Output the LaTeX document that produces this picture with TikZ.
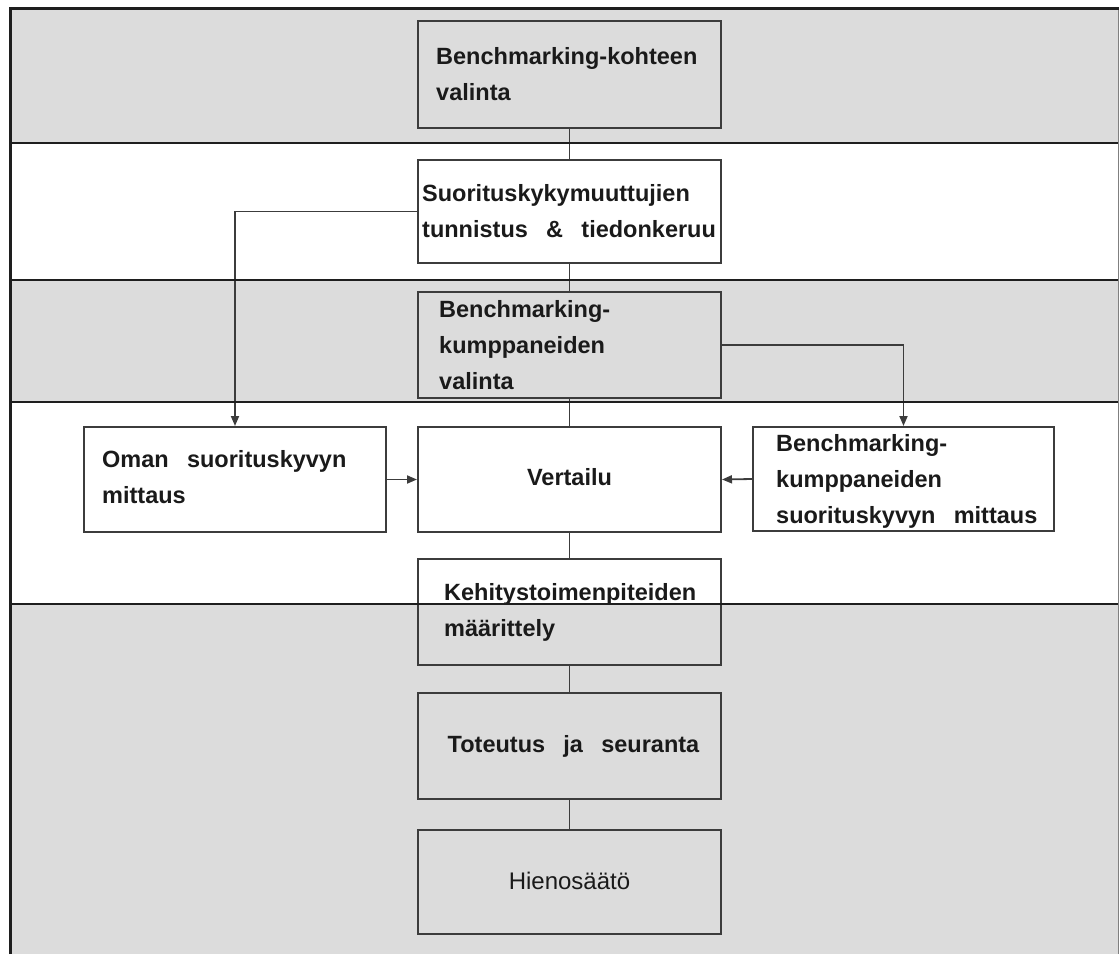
\documentclass[tikz,border=0pt]{standalone}
\usepackage{fontspec}
\setmainfont{Liberation Sans}[WordSpace=2.8]
\usetikzlibrary{arrows.meta}

\definecolor{bandgrey}{HTML}{DCDCDC}
\definecolor{boxline}{HTML}{3C3C3C}
\definecolor{rule}{HTML}{1E1E1E}
\definecolor{ink}{HTML}{1A1A1A}

\tikzset{
  stepbox/.style={draw=boxline, line width=2pt, inner sep=0pt,
    minimum width=303pt, minimum height=106pt},
  steptext/.style={font=\fontsize{23.5}{36}\selectfont\bfseries, text=ink,
    align=left, inner sep=0pt, anchor=west},
  midtext/.style={font=\fontsize{23.5}{36}\selectfont\bfseries, text=ink,
    align=center, inner sep=0pt},
  link/.style={draw=boxline, line width=1.8pt},
  flow/.style={link, -{Triangle[length=10pt,width=8pt]}},
  bandrule/.style={draw=rule, line width=2pt}
}

\begin{document}
\begin{tikzpicture}[x=1pt, y=-1pt]
  \useasboundingbox (0,0) rectangle (1119,954);

  % shaded phases
  \fill[bandgrey] (10,8) rectangle (1119,143);
  \fill[bandgrey] (10,280) rectangle (1119,402);
  \fill[bandgrey] (10,604) rectangle (1119,954);

  % process steps
  \node[stepbox, minimum height=107pt] (b1) at (569.5,74.5) {};
  \node[stepbox, minimum height=103pt] (b2) at (569.5,211.5) {};
  \node[stepbox] (b3) at (569.5,345) {};
  \node[stepbox, minimum height=105pt] (vt) at (569.5,479.5) {};
  \node[stepbox, minimum width=302pt, minimum height=105pt] (lb) at (235,479.5) {};
  \node[stepbox, minimum width=301pt, minimum height=104pt] (rb) at (903.5,479) {};
  \node[stepbox] (b5) at (569.5,612) {};
  \node[stepbox] (b6) at (569.5,746) {};
  \node[stepbox, minimum height=104pt] (b7) at (569.5,882) {};

  % step texts
  \node[steptext] (t1) at ([xshift=19pt]b1.west) {Benchmarking-kohteen\\valinta};
  \node[steptext] (t2) at ([xshift=5pt]b2.west) {Suorituskykymuuttujien\\tunnistus \& tiedonkeruu};
  \node[steptext] (t3) at ([xshift=22pt]b3.west) {Benchmarking-\\kumppaneiden\\valinta};
  \node[midtext] (tv) at ([yshift=2pt]vt.center) {Vertailu};
  \node[steptext] (tl) at ([xshift=19pt,yshift=2pt]lb.west) {Oman suorituskyvyn\\mittaus};
  \node[steptext] (tr) at ([xshift=24pt,yshift=-2pt]rb.west) {Benchmarking-\\kumppaneiden\\suorituskyvyn mittaus};
  \node[steptext] (t5) at ([xshift=27pt]b5.west) {Kehitystoimenpiteiden\\m\"a\"arittely};
  \node[midtext] (t6) at ([xshift=4pt]b6.center) {Toteutus ja seuranta};
  \node[midtext, font=\fontsize{24}{28}\selectfont\mdseries, text=ink] (t7)
    at ([yshift=1pt]b7.center) {Hienos\"a\"at\"o};

  % connectors
  \draw[link] (b1.south) -- (b2.north);
  \draw[link] (b2.south) -- (b3.north);
  \draw[link] (b3.south) -- (vt.north);
  \draw[link] (vt.south) -- (b5.north);
  \draw[link] (b5.south) -- (b6.north);
  \draw[link] (b6.south) -- (b7.north);
  \draw[flow] (b2.west) -| (lb.north);
  \draw[flow] (b3.east) -| (rb.north);
  \draw[flow] (lb.east) -- (vt.west);
  \draw[flow] (rb.west) -- (vt.east);

  % phase separators and frame
  \draw[bandrule] (10,143) -- (1119,143);
  \draw[bandrule] (10,280) -- (1119,280);
  \draw[bandrule] (10,402) -- (1119,402);
  \draw[bandrule] (10,604) -- (1119,604);
  \draw[draw=gray, line width=1pt] (1118.5,8) -- (1118.5,954);
  \draw[draw=rule, line width=3pt] (10,954) -- (10,8) -- (1119,8);
\end{tikzpicture}
\end{document}
